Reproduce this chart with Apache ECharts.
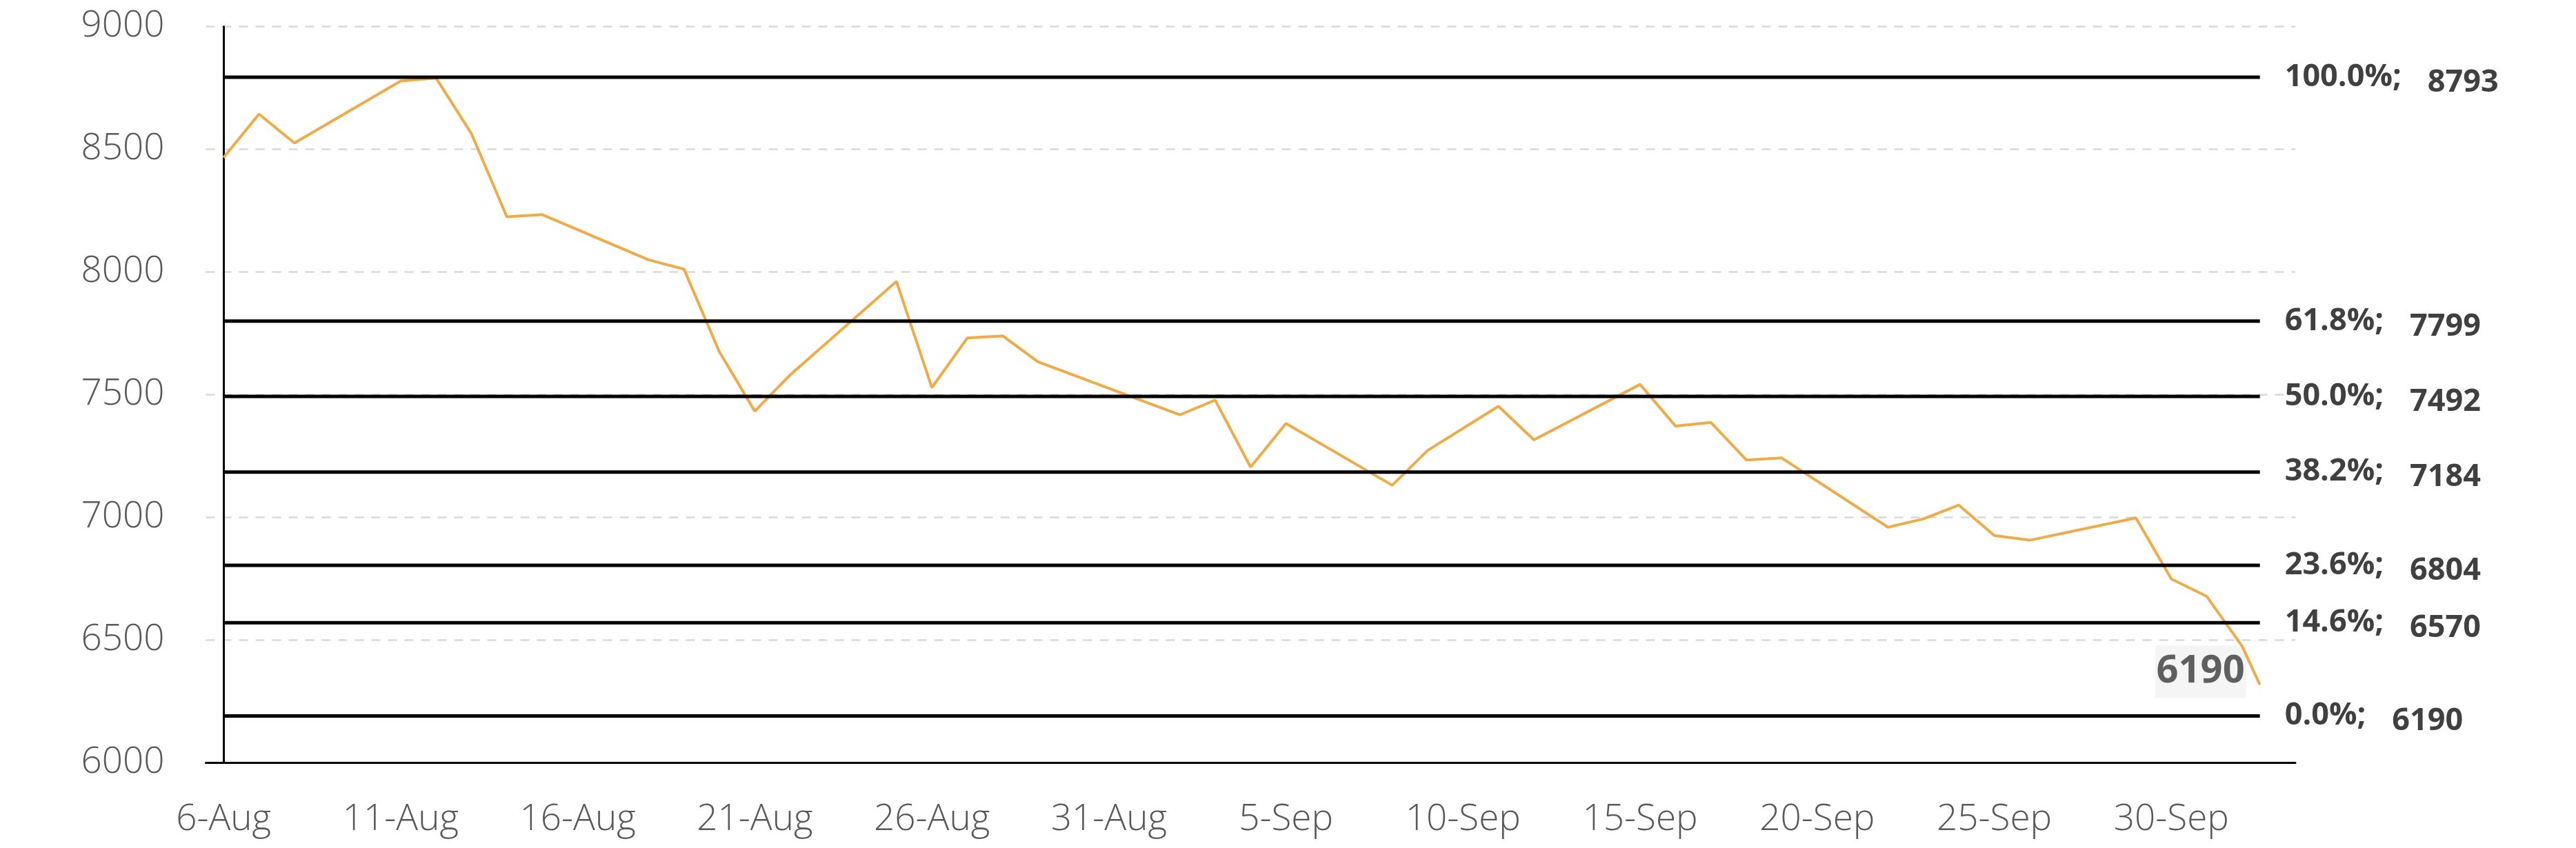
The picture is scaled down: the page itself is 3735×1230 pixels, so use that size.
<!DOCTYPE html>
<html><head><meta charset="utf-8">
<script src="https://cdn.jsdelivr.net/npm/echarts@6/dist/echarts.min.js"></script>
<style>html,body{margin:0;padding:0;background:#fff}#c{width:3735px;height:1230px}</style>
</head><body><div id="c"></div>
<script>
// days counted from 6-Aug (day 0)
const priceDays = [0,1,2,5,6,7,8,9,12,13,14,15,16,19,20,21,22,23,27,28,29,30,33,34,36,37,40,41,42,43,44,47,48,49,50,51,54,55,56,57,57.5];
const priceValues = [8466,8643,8525,8778,8790,8563,8224,8233,8049,8011,7674,7432,7580,7961,7528,7730,7739,7633,7417,7477,7204,7382,7130,7272,7452,7315,7541,7371,7386,7233,7241,6959,6993,7049,6925,6906,6997,6748,6677,6474,6317];
const tickDays = [0,5,10,15,20,25,30,35,40,45,50,55];
const tickLabels = ['6-Aug','11-Aug','16-Aug','21-Aug','26-Aug','31-Aug','5-Sep','10-Sep','15-Sep','20-Sep','25-Sep','30-Sep'];
const fibPcts = ['100.0%','61.8%','50.0%','38.2%','23.6%','14.6%','0.0%'];
const fibValues = [8793,7799,7492,7184,6804,6570,6190];
const lastLabel = '6190';

const FONT = "'Open Sans', 'Noto Sans', sans-serif";
const firstDay = priceDays[0];
const lastDay = priceDays[priceDays.length - 1];
const lastVal = priceValues[priceValues.length - 1];

const series = [];
series.push({
  type: 'line',
  data: priceDays.map((d, i) => [d, priceValues[i]]),
  showSymbol: false,
  symbol: 'none',
  lineStyle: { color: '#EEAB47', width: 4 },
  z: 2,
  silent: true
});
fibValues.forEach((v, i) => {
  series.push({
    type: 'line',
    data: [[firstDay, v], [lastDay, v]],
    symbol: 'none',
    showSymbol: false,
    lineStyle: { color: '#000', width: 5 },
    z: 3,
    silent: true,
    endLabel: {
      show: true,
      distance: 36,
      formatter: '{p|' + fibPcts[i] + ';}{v|' + fibValues[i] + '}',
      rich: {
        p: { fontFamily: FONT, fontSize: 45, fontWeight: 'bold', color: '#404040' },
        v: { fontFamily: FONT, fontSize: 45, fontWeight: 'bold', color: '#404040', padding: [16, 0, 0, 38] }
      }
    }
  });
});
series.push({
  type: 'scatter',
  data: [[lastDay, lastVal]],
  symbolSize: 0,
  z: 1,
  silent: true,
  label: {
    show: true,
    position: 'left',
    distance: 20,
    offset: [0, -19],
    formatter: lastLabel,
    fontFamily: FONT,
    fontSize: 56,
    lineHeight: 56,
    fontWeight: 'bold',
    color: '#3A3A3A',
    backgroundColor: '#F2F2F2',
    padding: [10, 2, 10, 2]
  }
});

const chart = echarts.init(document.getElementById('c'));
chart.setOption({
  animation: false,
  backgroundColor: '#fff',
  grid: { left: 298.5, right: 407, top: 38.4, bottom: 124 },
  xAxis: {
    type: 'value',
    min: -0.5,
    max: 58.5,
    splitLine: { show: false },
    axisTick: { show: false },
    axisLine: { show: true, onZero: false, lineStyle: { color: '#000', width: 3 } },
    axisLabel: {
      customValues: tickDays,
      formatter: (val) => { const k = tickDays.indexOf(Math.round(val)); return k >= 0 ? tickLabels[k] : ''; },
      margin: 56,
      fontFamily: FONT,
      fontWeight: 300,
      fontSize: 53,
      color: '#595959'
    }
  },
  yAxis: {
    type: 'value',
    min: 6000,
    max: 9000,
    interval: 500,
    axisLine: { show: true, lineStyle: { color: '#000', width: 3 } },
    axisTick: { show: false },
    splitLine: { show: true, lineStyle: { color: '#D9D9D9', width: 2.5, type: [13, 11] } },
    axisLabel: { margin: 60, fontFamily: FONT, fontWeight: 300, fontSize: 53, color: '#595959', formatter: (v) => String(v) }
  },
  series: series
});
</script></body></html>
